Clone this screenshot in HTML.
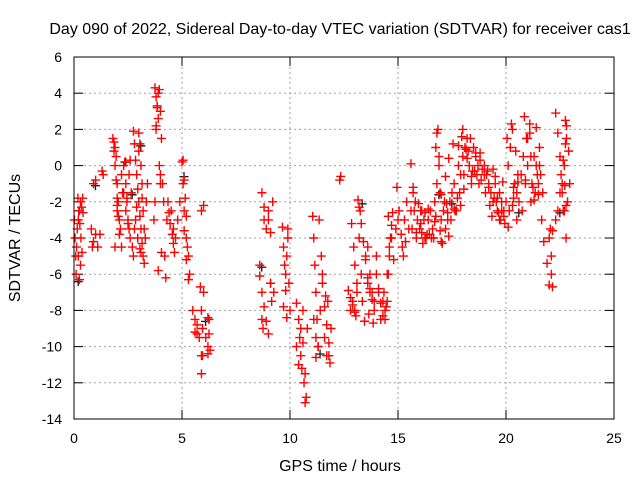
<!DOCTYPE html>
<html><head><meta charset="utf-8"><style>
body{margin:0;background:#fff;}
svg text{font-family:"Liberation Sans",sans-serif;font-size:14px;fill:#000;}
svg text.big{font-size:16px;}
</style></head><body>
<svg id="chart" width="640" height="480" xmlns="http://www.w3.org/2000/svg">
<text class="big" x="340" y="34" text-anchor="middle">Day 090 of 2022, Sidereal Day-to-day VTEC variation (SDTVAR) for receiver cas1</text>
<text class="big" transform="translate(20,238) rotate(-90)" text-anchor="middle">SDTVAR / TECUs</text>
<text class="big" x="340" y="471" text-anchor="middle">GPS time / hours</text>
<g id="grid"></g><g id="ticks"></g><g id="marks"></g>
<rect x="74" y="57" width="540" height="362" fill="none" stroke="#000" stroke-width="1"/>
</svg>
<script>
const xTicks=[0,5,10,15,20,25];
const yTicks=[6,4,2,0,-2,-4,-6,-8,-10,-12,-14];
const redX=[0.02,0.05,0.08,0.1,0.12,0.15,0.2,0.25,0.3,0.35,0.4,0.42,
0.8,0.85,0.9,1.0,1.1,0.9,1.0,1.3,1.35,1.2,
1.85,1.9,1.95,2.0,2.05,2.1,2.15,2.2,2.0,2.25,
2.3,2.4,2.45,2.5,2.55,2.6,2.65,2.7,2.75,2.8,
3.0,3.05,3.1,3.15,3.2,3.25,3.3,3.35,3.4,3.1,
3.7,3.75,3.8,3.85,3.9,3.95,4.0,4.05,4.1,4.15,4.2,4.25,4.3,
4.5,4.6,4.7,4.8,4.9,5.0,5.05,5.1,5.2,5.3,5.35,5.25,
5.6,5.7,5.8,5.9,5.95,6.0,5.9,6.0,6.1,6.2,6.25,6.3,
8.6,8.7,8.75,8.8,8.9,9.0,9.1,9.15,9.2,9.25,
9.8,9.85,9.9,9.95,10.0,9.9,
10.3,10.4,10.45,10.5,10.6,10.7,10.75,10.8,
11.1,11.2,11.3,11.4,11.35,11.45,11.5,11.6,11.7,11.75,11.8,11.9,
12.3,12.35,
12.8,12.9,13.0,13.1,13.2,13.25,13.3,13.35,
13.5,13.6,13.7,13.8,13.9,14.0,
14.1,14.2,14.3,14.4,14.5,14.6,14.7,
14.9,15.0,15.2,15.3,15.4,15.5,
15.6,15.7,15.8,15.9,16.0,16.1,16.2,16.3,16.4,16.5,16.6,16.7,16.8,16.85,16.9,17.0,17.1,17.2,
15.65,15.85,16.05,16.25,16.45,16.65,16.95,17.15,
17.4,17.5,17.6,17.7,17.8,17.9,18.0,18.1,18.2,18.3,18.4,18.5,18.6,18.7,18.8,18.9,19.0,
17.45,17.65,17.85,18.05,18.25,18.45,18.65,18.85,
19.1,19.2,19.3,19.4,19.5,19.6,19.7,19.8,19.9,20.0,
19.15,19.35,19.55,19.75,19.95,
20.1,20.2,20.3,20.4,20.5,20.6,20.7,20.8,20.9,21.0,21.1,21.2,21.3,21.4,21.5,21.6,21.7,
20.15,20.35,20.55,20.75,20.95,21.15,21.35,21.55,
22.0,22.05,22.1,22.15,22.3,22.4,22.5,22.6,22.7,22.75,22.8,22.85,22.9,22.95,22.65,22.78];
const redY=[-3,-4,-5,-6,-4.5,-3.5,-3,-2.5,-2,-2.3,-1.8,-2.6,
-3.5,-4.5,-4.2,-3.8,-4.5,-1,-0.8,-0.3,-0.5,-3.8,
1.3,1,0.5,-1,-2,-3,-3.5,-4.5,-2.5,-1.5,
0,-1,-2,-3,-0.5,0.3,-1.5,-4.5,-5,-3.5,
1.8,1.2,0,-1,-2.5,-3.5,-4,-2,-1,-4.8,
-3,-2,2,3.3,4,4.2,3,1.5,-1,-2,-5,-6.2,-3,
-2.5,-3.5,-4,-3,-2,0.2,-1,-2.5,-4,-5,-6,-4.5,
-9.2,-8.8,-9.5,-11.5,-10.5,-7,-2.5,-2.2,-9.5,-10,-8.5,-10.2,
-5.5,-8.5,-9,-3,-3.5,-2.5,-6.5,-7.5,-2,-7,
-6,-5,-4,-6.5,-8,-3.5,
-10,-11,-9.5,-9,-8,-11.5,-12.8,-9,
-8.5,-9.5,-10,-8,-3,-5,-6,-9.5,-10.5,-7.5,-10.5,-9,
-0.8,-0.6,
-8,-7.5,-8,-7,-4,-2.5,-6,-7.5,
-5,-4.5,-6,-7,-7.5,-5,
-7,-8.5,-7.5,-8,-6,-5,-4,
-3.5,-3,-4.5,-3,-2,-3.5,
-2.5,-1.5,-2,-3,-3.5,-2.5,-3,-4,-3,-2.5,-3.5,-2,-1,2,0,-3,-2.5,-3.5,
-3.5,-4,-2.5,-4,-3.8,-4,-1.5,-2,
-2,-1.5,-1,-2.5,0,-0.5,0.5,1,1.5,0,-1,1,0.5,0,0.3,-0.2,0,
-3,-2.5,-1.5,-0.5,0.8,-0.3,-0.5,-0.8,
-0.5,-1,-1.5,-2,-1,-2.5,-1.5,-2,-2.5,-2,
-0.3,-2.8,-2,-3,-3.2,
0,1,2,-1,-3,-2,-0.5,0.5,-1,0,2.3,-1,0.5,0,-1,-0.5,-1.5,
-2.5,-1.8,-0.5,-2.5,1.5,-2,-1.5,0,
-4,-3.5,-6,-6.7,-3,-2.5,-1.5,-1,0,2.5,1.5,-2,0.8,-1,-2.5,-4];
const extraX=[0.18,0.22,0.27,0.32,0.37,0.3,0.25,0.2,
1.8,1.85,1.9,1.95,2.0,2.05,2.1,1.9,2.0,
2.2,2.3,2.4,2.5,2.6,2.35,2.45,2.55,
2.75,2.8,2.85,2.9,2.95,3.0,3.05,3.1,3.15,3.2,3.25,2.85,2.95,3.05,3.15,3.0,2.9,
3.75,3.8,3.85,3.9,3.8,3.95,4.0,4.0,4.05,3.9,
4.35,4.4,4.45,4.55,4.6,4.65,
5.05,5.1,5.15,5.2,5.1,5.2,5.3,
5.5,5.6,5.7,5.85,5.9,5.95,5.9,6.2,6.25,6.2,
8.6,8.7,8.8,8.9,9.0,9.1,8.7,8.8,9.0,9.1,
9.65,9.7,9.75,9.8,9.7,9.85,
10.3,10.4,10.5,10.55,10.65,10.7,10.6,
11.05,11.1,11.15,11.2,11.25,11.3,11.2,11.5,11.6,11.7,11.8,11.85,11.65,
12.7,12.8,12.9,13.0,13.05,12.85,12.95,13.0,13.1,13.15,
13.2,13.3,13.4,13.5,13.6,13.7,13.8,13.9,13.45,13.65,13.85,13.6,13.7,
14.0,14.1,14.2,14.3,14.4,14.5,14.55,14.6,14.7,14.75,14.35,14.45,
14.55,14.65,14.8,14.95,15.05,15.15,15.25,15.35,15.6,15.7,15.75,15.85,
15.95,16.05,16.15,16.25,16.35,16.55,16.75,16.95,17.05,17.25,17.35,16.1,16.4,16.7,17.0,17.3,16.75,16.8,16.9,
17.0,17.2,17.35,17.55,17.75,17.95,18.15,18.35,18.55,18.75,18.0,17.9,18.05,18.2,17.3,17.6,17.8,18.4,18.6,
18.8,19.0,19.2,19.4,19.6,19.8,19.05,19.25,19.45,19.65,19.85,
19.5,19.7,19.9,20.1,20.3,20.5,20.05,20.25,20.45,20.55,20.15,20.35,
20.85,21.0,21.15,21.3,21.45,21.55,20.9,21.1,21.25,21.4,21.5,
21.65,21.75,21.9,22.0,22.1,22.15,
22.3,22.4,22.5,22.55,22.6,22.7,22.75,22.8,22.65,22.72,22.78];
const extraY=[-1.8,-2.5,-3.2,-4,-4.8,-5.5,-6.3,-5,
1.5,0.8,0,-0.8,-1.8,-2.8,-3.8,-4.5,-2.2,
-0.5,-1.5,-2.5,-3.2,-4,0.2,-1.8,-3.5,
1.9,1.2,0.3,-0.5,-1.3,-2,-2.8,-3.5,-4.3,-5,-5.4,-3,-4,-4.6,-1.8,0.8,-2.3,
4.3,3.8,3.2,2.6,2.2,0,-0.5,-1,-4.8,-5.8,
-2,-2.6,-3.2,-3.8,-4.3,-4.8,
0.3,-0.8,-1.8,-2.8,-3.6,-5.2,-6.3,
-8,-8.5,-9.3,-6.7,-8,-9,-10.5,-8.4,-9.3,-10.4,
-6.1,-7,-7.8,-8.6,-9.3,-6.5,-1.5,-2.3,-3,-3.7,
-3.4,-4.5,-5.5,-6.9,-7.8,-8.4,
-7.6,-8.5,-10.5,-11.2,-12,-13.1,-9.8,
-2.8,-4,-5.5,-7,-8.5,-10,-10.6,-6.5,-7.8,-8.8,-9.8,-10.9,-7.2,
-6.9,-7.3,-7.7,-8.1,-8.3,-3.2,-4.5,-5.5,-6.5,-1.9,
-2.3,-3.2,-4.2,-5.2,-6.2,-6.8,-7.4,-8,-8.6,-8.2,-8.7,-6.5,-7,
-6,-6.8,-7.6,-8.3,-8.5,-7.5,-6,-4.5,-3.3,-2.6,-7,-7.8,
-2.8,-4,-5.2,-1.2,-2.5,-3.8,-5,-4.2,0.1,-1.2,-2.5,-3.7,
-2.1,-3.2,-4.3,-2.6,-3.8,-4,-2.8,-3.6,-4.3,-2.1,-3.9,-3.7,-2.4,-3.1,-4.2,-3,1,1.8,0.5,
-1.6,-0.6,0.4,1.2,-1.8,1.6,0.9,1.5,-0.3,-1,2,-2.2,-1.3,0.4,-2.6,-2.4,1.1,-0.6,0.7,
0.7,-0.5,-1.2,-0.2,-1.8,-2.5,-1.5,-2.2,-1.8,-2.6,-0.9,
-0.6,-3,-2.8,-3.4,-2.2,-1.5,1.5,2.3,0.8,-0.9,-2.5,-1.2,
2.7,1.5,0.5,-1.9,-0.5,1,-0.8,1.8,-1.2,2.1,-1.6,
-3,-4.2,-5.4,-6.6,-5,-3.6,
2.9,1.8,0.5,-0.5,-1.5,-2.5,1.2,2.2,0.3,-1.1,-2.2];
const blackX=[0.1,0.9,2.3,2.6,3.0,5.0,6.0,8.6,11.3,13.25,16.8,17.4,20.5,22.4];
const blackY=[-6.3,-1,0.3,-1.5,1.2,-0.5,-8.5,-5.5,-10.3,-2,-1.5,-2,-2.5,-2.5];
const X=v=>74+(v/25)*540, Y=v=>57+(6-v)/20*362;
const NS="http://www.w3.org/2000/svg";
const grid=document.getElementById('grid'),ticks=document.getElementById('ticks'),marks=document.getElementById('marks');
function ln(p,x1,y1,x2,y2,st,dash){const l=document.createElementNS(NS,'line');l.setAttribute('x1',x1);l.setAttribute('y1',y1);l.setAttribute('x2',x2);l.setAttribute('y2',y2);l.setAttribute('stroke',st);if(dash)l.setAttribute('stroke-dasharray',dash);p.appendChild(l);return l;}
function tx(p,x,y,s,a){const t=document.createElementNS(NS,'text');t.setAttribute('x',x);t.setAttribute('y',y);t.setAttribute('text-anchor',a);t.textContent=s;p.appendChild(t);return t;}
xTicks.forEach(v=>{const x=X(v);
 if(v>0&&v<25){const g=ln(grid,x,57,x,419,'#a0a0a0','2,3');
 
 }
 ln(ticks,x,419,x,410,'#000');ln(ticks,x,57,x,66,'#000');
 const t=tx(ticks,x,443,String(v),'middle');
 
 });
yTicks.forEach(v=>{const y=Y(v);
 if(v<6&&v>-14){const g=ln(grid,74,y,614,y,'#a0a0a0','2,3');
 
 }
 ln(ticks,74,y,83,y,'#000');ln(ticks,614,y,605,y,'#000');
 const t=tx(ticks,62,y+5,String(v),'end');
 
 });
function plus(x,y,c,name){const p=document.createElementNS(NS,'path');
 p.setAttribute('d',`M${x-4.5},${y}H${x+4.5}M${x},${y-4.5}V${y+4.5}`);p.setAttribute('stroke',c);p.setAttribute('stroke-width','1.4');
 
 
 marks.appendChild(p);}
blackX.forEach((v,i)=>plus(X(v)+2,Y(blackY[i])+2,'#222','black-point'));
redX.forEach((v,i)=>plus(X(v),Y(redY[i]),'#ff0000','red-point'));
extraX.forEach((v,i)=>plus(X(v),Y(extraY[i]),'#ff0000','red-point'));
</script>
</body></html>
